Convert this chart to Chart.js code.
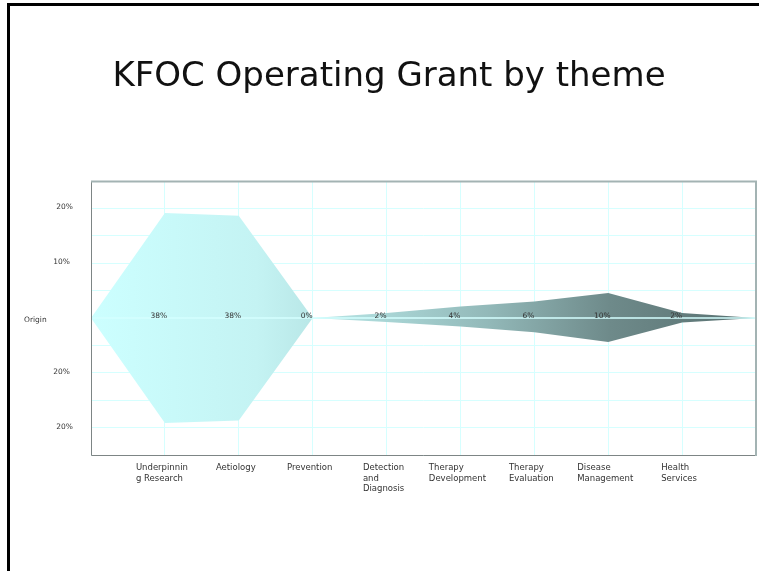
<!DOCTYPE html>
<html>
<head>
<meta charset="utf-8">
<script src="https://cdn.jsdelivr.net/npm/chart.js@4.4.0/dist/chart.umd.min.js"></script>
<style>
html,body{margin:0;padding:0;background:#fff;}
#wrap{position:relative;width:759px;height:571px;}
canvas{display:block;}
</style>
</head>
<body>
<div id="wrap"><canvas id="c" width="759" height="571"></canvas></div>
<script>
// ---- data ----
const categories = ['Origin','Underpinning Research','Aetiology','Prevention','Detection and Diagnosis','Therapy Development','Therapy Evaluation','Disease Management','Health Services',''];
const xLabelLines = [[], ['Underpinnin','g Research'], ['Aetiology'], ['Prevention'], ['Detection','and','Diagnosis'], ['Therapy','Development'], ['Therapy','Evaluation'], ['Disease','Management'], ['Health','Services'], []];
const upperValues = [0, 38.3, 37.3, 0, 1.8, 4.2, 6.0, 9.1, 1.8, 0];
const lowerValues = [0, -38.3, -37.4, 0, -1.5, -3.1, -5.2, -8.8, -1.6, 0];
const valueLabels = ['', '38%', '38%', '0%', '2%', '4%', '6%', '10%', '2%', ''];
const yTickValues = [40, 20, 0, -20, -40];
const yTickLabels = ['20%', '10%', 'Origin', '20%', '20%'];
const titleText = 'KFOC Operating Grant by theme';

const FONT = '"DejaVu Sans", Verdana, sans-serif';

function gradientFill(ctx) {
  const ca = ctx.chart.chartArea;
  if (!ca) return '#ccffff';
  const g = ctx.chart.ctx.createLinearGradient(ca.left, 0, ca.right, 0);
  g.addColorStop(0, '#ccffff');
  g.addColorStop(0.25, '#c4f3f3');
  g.addColorStop(0.34, '#b8e6e6');
  g.addColorStop(0.45, '#a8d4d4');
  g.addColorStop(0.6, '#92b8b8');
  g.addColorStop(0.78, '#6e8a8a');
  g.addColorStop(1, '#587070');
  return g;
}

const decor = {
  id: 'decor',
  beforeDraw(chart) {
    const c = chart.ctx;
    c.save();
    c.fillStyle = '#fff';
    c.fillRect(0, 0, chart.width, chart.height);
    // title
    c.fillStyle = '#111';
    c.font = '34px ' + FONT;
    c.textAlign = 'center';
    c.textBaseline = 'middle';
    c.fillText(titleText, 389, 77);
    c.restore();
  },
  afterDatasetsDraw(chart) {
    const c = chart.ctx;
    const xs = chart.scales.x, ys = chart.scales.y;
    const ca = chart.chartArea;
    c.save();
    // value labels on the centre line
    c.font = '7.5px ' + FONT;
    c.fillStyle = '#333';
    c.textAlign = 'center';
    c.textBaseline = 'middle';
    valueLabels.forEach((t, i) => {
      if (!t) return;
      c.fillText(t, xs.getPixelForValue(i) - 6, ys.getPixelForValue(0) - 2);
    });
    // y labels
    yTickValues.forEach((v, i) => {
      const y = ys.getPixelForValue(v);
      if (yTickLabels[i] === 'Origin') {
        c.textAlign = 'left';
        c.fillText(yTickLabels[i], ca.left - 67, y + 2);
      } else {
        c.textAlign = 'right';
        const off = Math.abs(v) >= 40 ? 18 : 21;
        c.fillText(yTickLabels[i], ca.left - off, y - 1);
      }
    });
    // x labels: block centred under the gridline, lines left-aligned
    c.font = '8.5px ' + FONT;
    c.textAlign = 'left';
    c.textBaseline = 'top';
    xLabelLines.forEach((lines, i) => {
      if (!lines.length) return;
      const w = Math.max(...lines.map(l => c.measureText(l).width));
      const x = xs.getPixelForValue(i) - w / 2 - 3;
      lines.forEach((ln, k) => c.fillText(ln, x, ca.bottom + 9 + k * 10.3));
    });
    // plot border
    c.lineWidth = 1;
    c.strokeStyle = '#7d8585';
    c.beginPath();
    c.moveTo(ca.left + 0.5, ca.top);
    c.lineTo(ca.left + 0.5, ca.bottom + 0.5);
    c.lineTo(ca.right, ca.bottom + 0.5);
    c.stroke();
    c.lineWidth = 2;
    c.strokeStyle = '#a3b3b3';
    c.beginPath();
    c.moveTo(ca.left, ca.top + 0.5);
    c.lineTo(ca.right, ca.top + 0.5);
    c.lineTo(ca.right, ca.bottom + 1);
    c.stroke();
    // page frame
    c.fillStyle = '#000';
    c.fillRect(7, 3, 3, chart.height - 3);
    c.fillRect(7, 3, chart.width - 7, 3);
    c.restore();
  }
};

new Chart(document.getElementById('c'), {
  type: 'line',
  data: {
    labels: categories,
    datasets: [
      {
        data: upperValues.map((v, i) => ({x: i, y: v})),
        borderWidth: 0, borderColor: 'rgba(0,0,0,0)', pointRadius: 0,
        fill: '+1', backgroundColor: gradientFill, tension: 0, order: 2
      },
      {
        data: lowerValues.map((v, i) => ({x: i, y: v})),
        borderWidth: 0, borderColor: 'rgba(0,0,0,0)', pointRadius: 0,
        fill: false, tension: 0, order: 2
      },
      {
        data: categories.map((_, i) => ({x: i, y: 0})),
        borderWidth: 1.5, borderColor: '#d4ffff', pointRadius: 0,
        fill: false, tension: 0, order: 0
      }
    ]
  },
  options: {
    responsive: false,
    animation: false,
    events: [],
    layout: { padding: { left: 91, top: 181, right: 3, bottom: 116 } },
    plugins: { legend: { display: false }, tooltip: { enabled: false }, title: { display: false } },
    scales: {
      x: {
        type: 'linear', min: 0, max: 9,
        ticks: { display: false, stepSize: 1 },
        grid: { color: '#d6ffff', lineWidth: 1, drawTicks: false },
        border: { display: false }
      },
      y: {
        type: 'linear', min: -50, max: 50,
        ticks: { display: false, stepSize: 10 },
        grid: { color: '#d6ffff', lineWidth: 1, drawTicks: false },
        border: { display: false }
      }
    }
  },
  plugins: [decor]
});
</script>
</body>
</html>
